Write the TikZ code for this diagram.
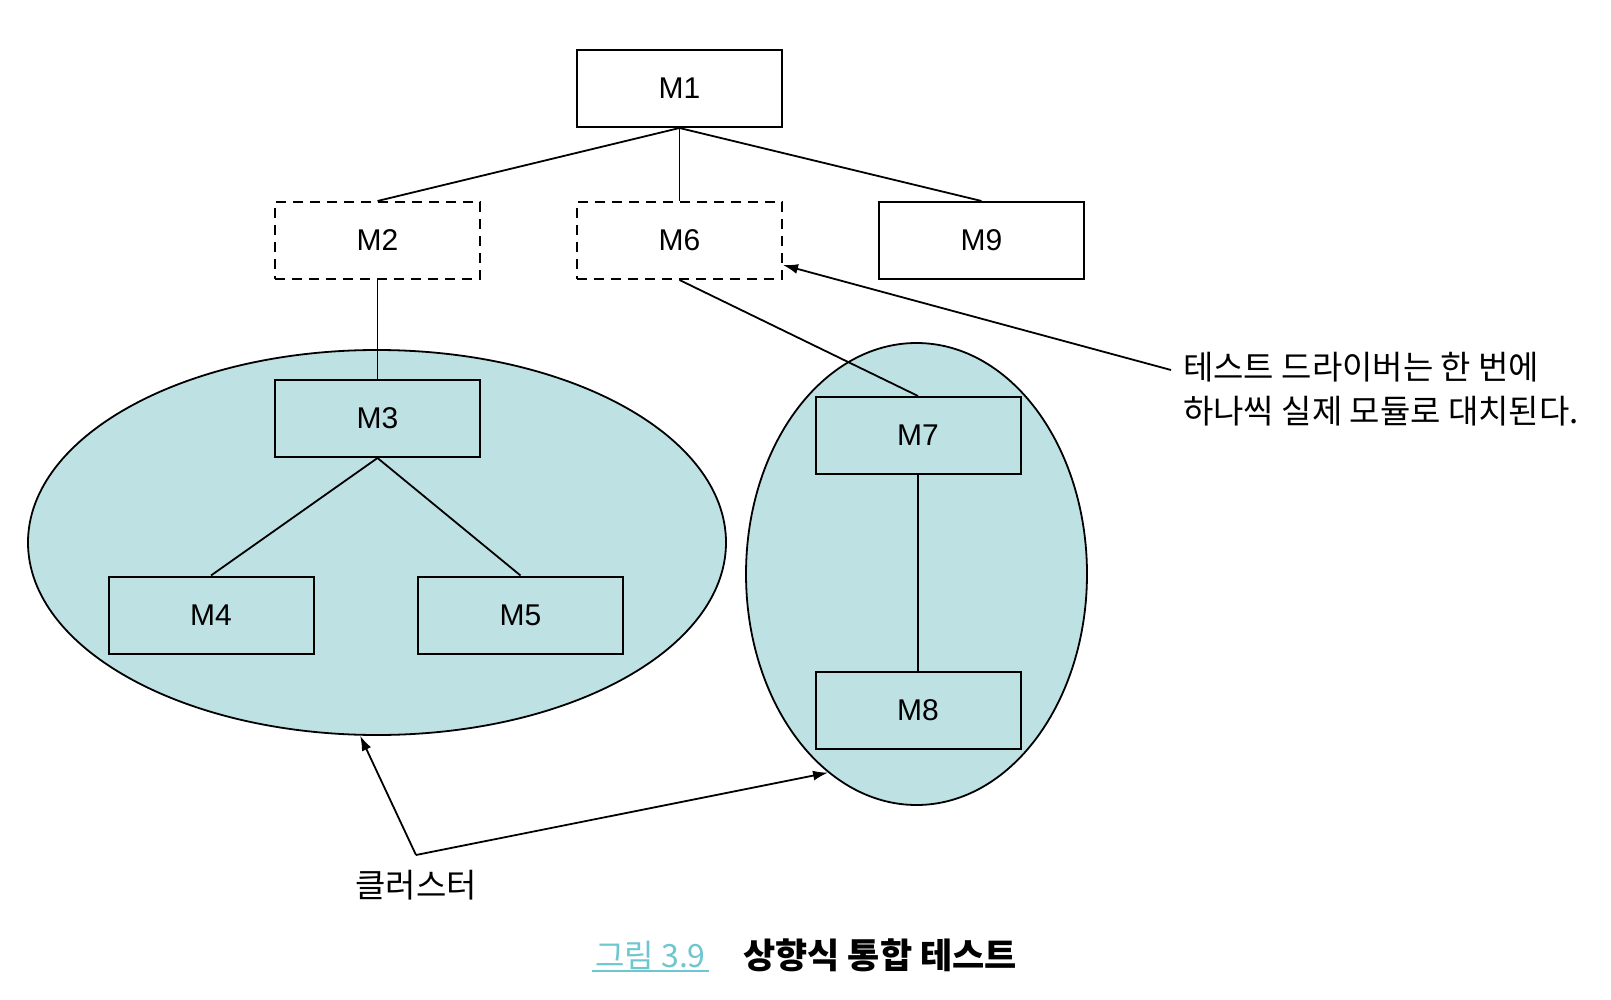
\documentclass[tikz,border=0pt]{standalone}
\usepackage{fontspec}
\setmainfont{Liberation Sans}
\newfontfamily\kr{Noto Sans CJK KR}
\usetikzlibrary{shapes.geometric,arrows.meta,calc}
\definecolor{clfill}{HTML}{BEE1E4}
\definecolor{capc}{HTML}{6EC6CF}
\begin{document}
\begin{tikzpicture}[x=1pt,y=-1pt,
 mod/.style={draw,line width=2pt,minimum width=205pt,minimum height=77pt,inner sep=0pt,font=\fontsize{30}{32}\selectfont},
 stub/.style={mod,dash pattern=on 10pt off 7pt},
 ln/.style={line width=1.8pt},
 arr/.style={line width=1.8pt,-{Latex[length=15pt,width=10pt]}},
 cl/.style={ellipse,draw,line width=1.8pt,fill=clfill,inner sep=0pt},
 kt/.style={font=\kr\fontsize{33}{44}\selectfont,inner sep=0pt}]
\useasboundingbox[fill=white] (0,0) rectangle (1611,1000);
% clusters
\node[cl,minimum width=698pt,minimum height=385pt] (leftell) at (377,542.5) {};
\node[cl,minimum width=341pt,minimum height=462pt] (rightell) at (916.5,574) {};
% modules
\node[mod] (M1) at (679.5,88.5) {M1};
\node[stub] (M2) at (377.5,240.5) {M2};
\node[stub] (M6) at (679.5,240.5) {M6};
\node[mod] (M9) at (981.5,240.5) {M9};
\node[mod] (M3) at (377.5,418.5) {M3};
\node[mod] (M4) at (211,615) {M4};
\node[mod] (M5) at (520.5,615) {M5};
\node[mod] (M7) at (918,435.5) {M7};
\node[mod] (M8) at (918,710.5) {M8};
% connectors
\draw[ln] (M1.south) -- (M2.north);
\draw[ln] (M1.south) -- (M6.north);
\draw[ln] (M1.south) -- (M9.north);
\draw[ln] (M2.south) -- (M3.north);
\draw[ln] (M3.south) -- (M4.north);
\draw[ln] (M3.south) -- (M5.north);
\draw[ln] (M6.south) -- (M7.north);
\draw[ln] (M7.south) -- (M8.north);
% driver note
\node[kt,anchor=west,align=left] (drv) at (1183,389) {테스트 드라이버는 한 번에\\하나씩 실제 모듈로 대치된다.};
\coordinate (drvend) at (1171,370);
\draw[arr] (drvend) -- ($(M6.east)+(0,24.5)$);
% cluster label
\node[kt,font=\kr\fontsize{33}{34}\selectfont] (cluster) at (416,885) {클러스터};
\coordinate (apex) at (416,855);
\draw[arr] (apex) -- (leftell.265.6);
\draw[arr] (apex) -- (rightell.246);
% caption
\node[inner sep=0pt,text=capc,font=\kr\fontsize{32}{34}\selectfont] (cap1) at (650.5,955) {그림 3.9};
\draw[capc,line width=1.2pt] (592,971) -- (709,971);
\node[inner sep=0pt,font=\kr\bfseries\fontsize{35}{36}\selectfont] (cap2) at (880,955) {상향식 통합 테스트};
\end{tikzpicture}
\end{document}
